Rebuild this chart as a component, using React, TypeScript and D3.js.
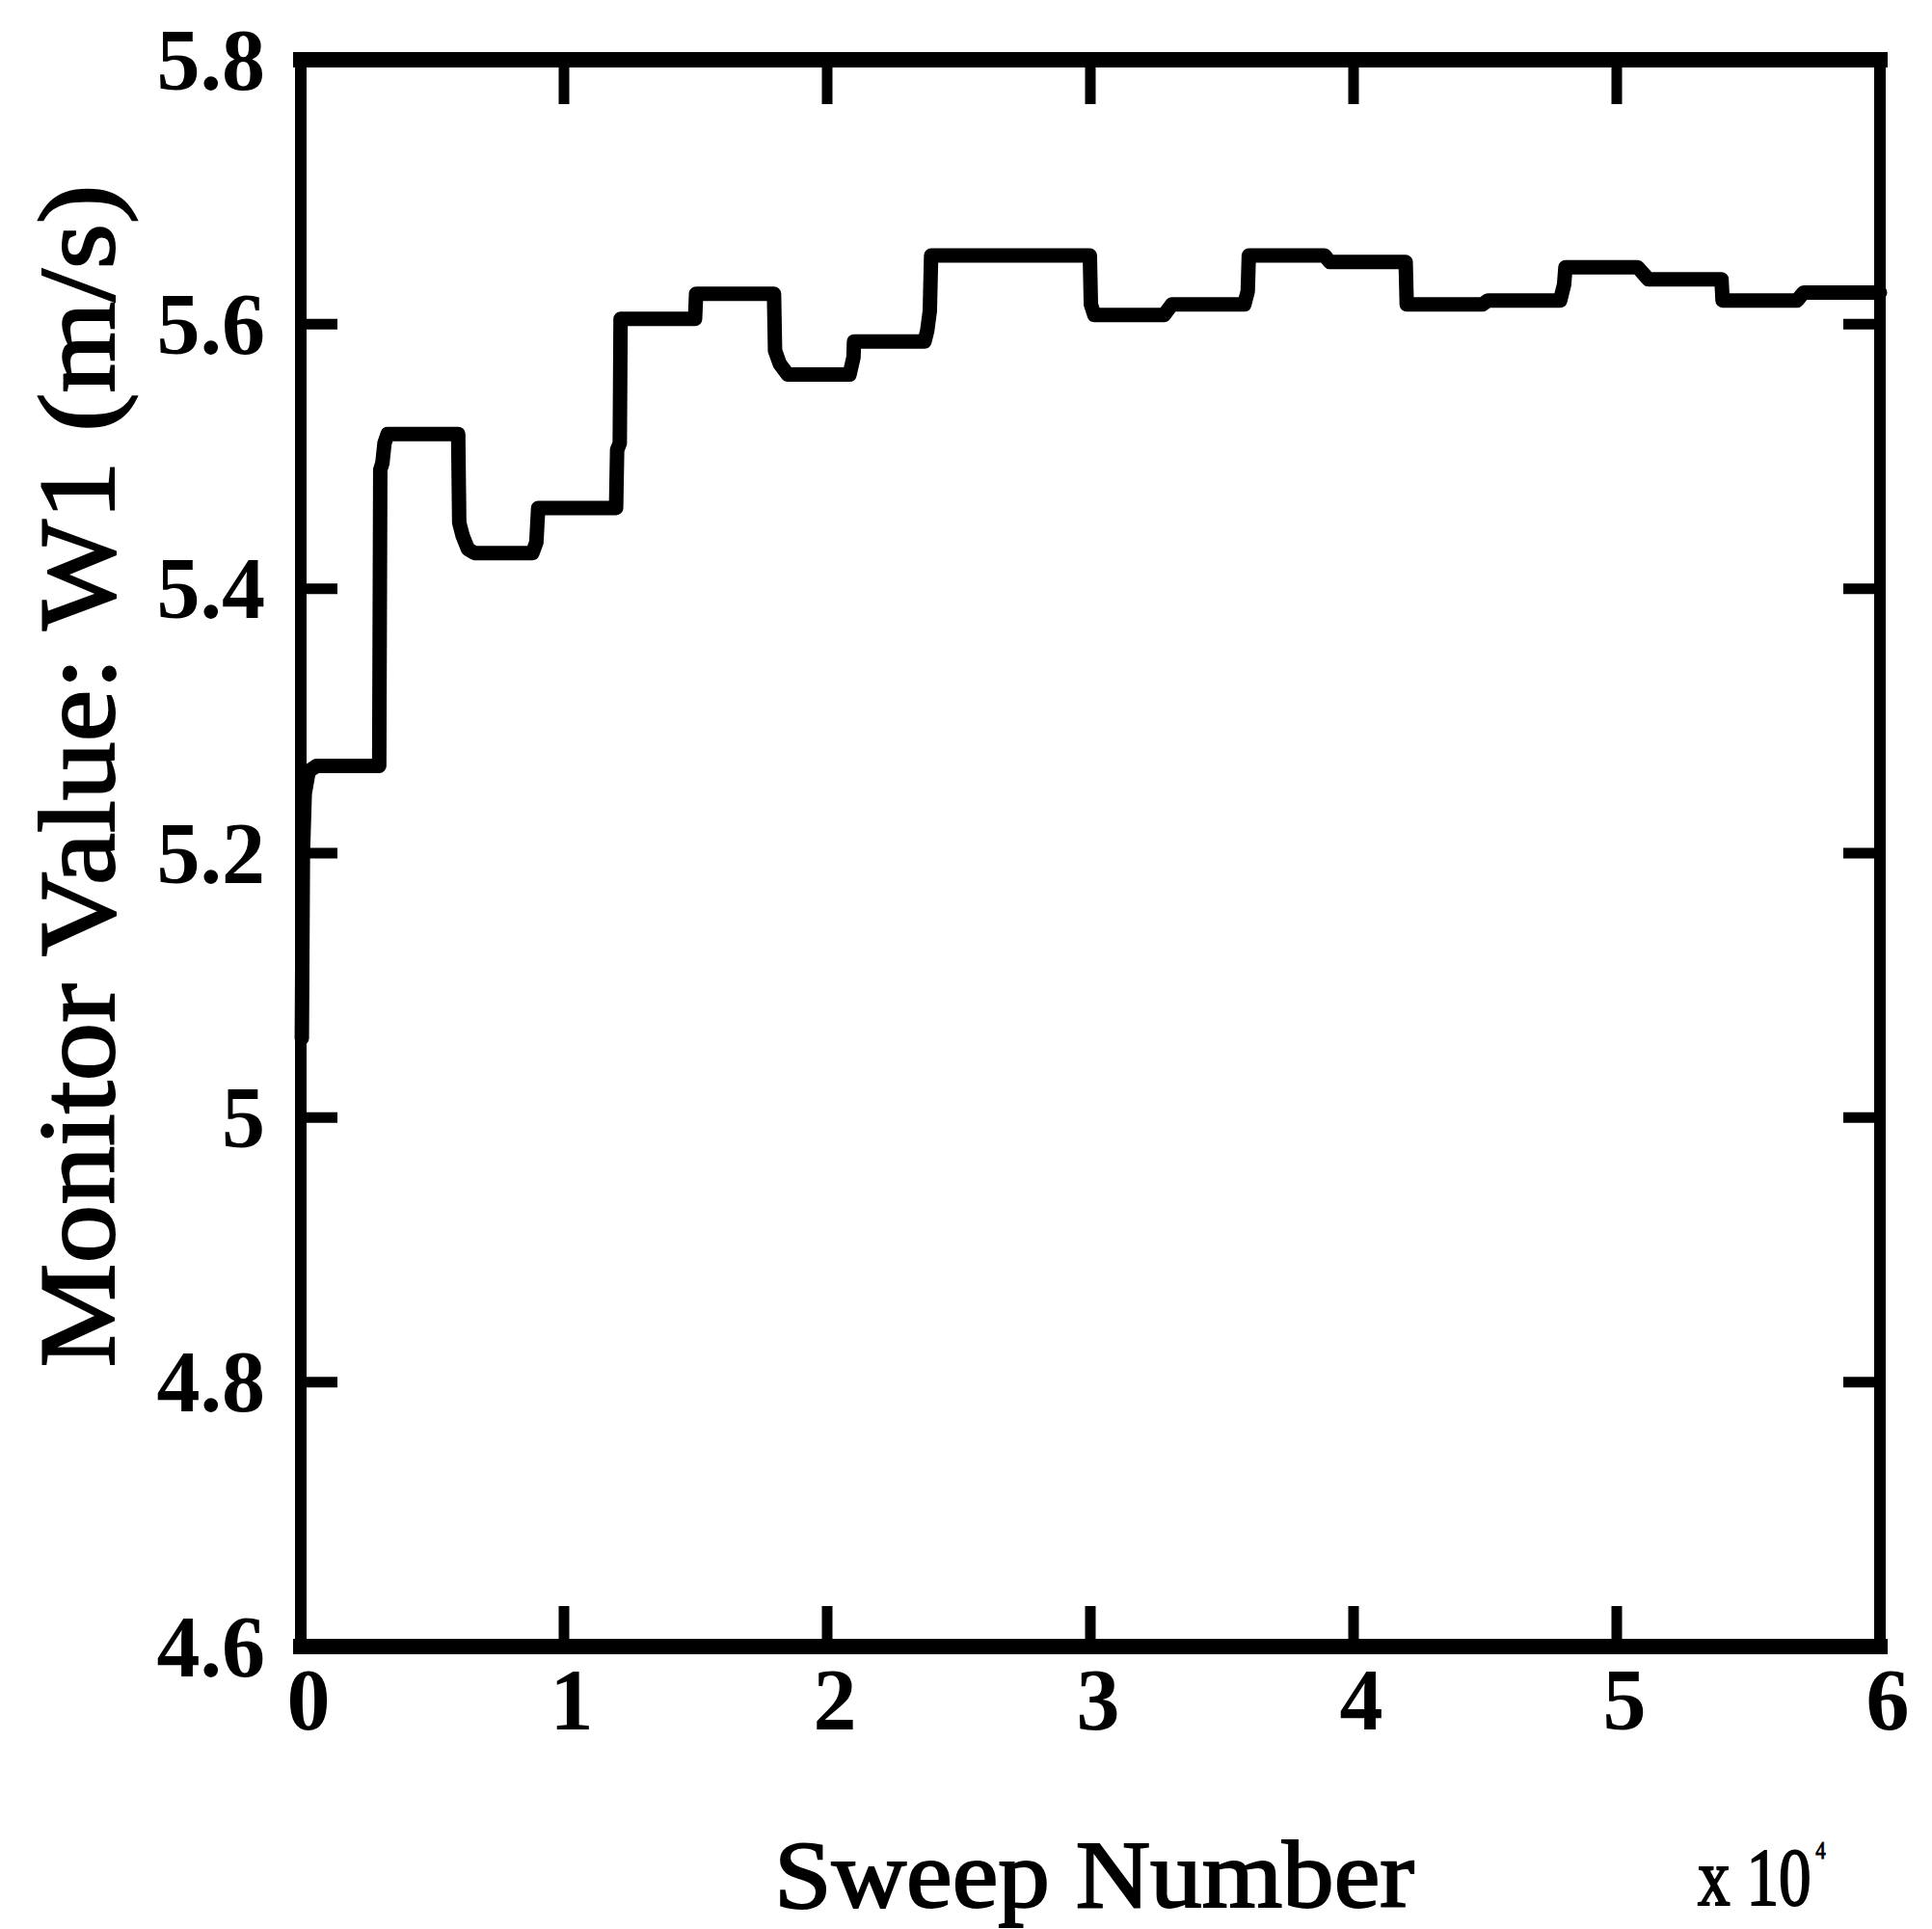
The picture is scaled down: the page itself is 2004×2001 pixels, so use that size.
import React from 'react';
import * as d3 from 'd3';

const sweepPoints = [
  0.004, 0.008, 0.015, 0.03, 0.06, 0.298, 0.302, 0.31, 0.318, 0.33,
  0.598, 0.602, 0.615, 0.635, 0.66, 0.88, 0.895, 0.902, 1.198, 1.202,
  1.212, 1.215, 1.498, 1.502, 1.798, 1.802, 1.82, 1.85, 2.085, 2.1,
  2.102, 2.37, 2.38, 2.39, 2.395, 2.998, 3.002, 3.015, 3.28, 3.31,
  3.585, 3.598, 3.602, 3.89, 3.91, 4.198, 4.202, 4.49, 4.51, 4.785,
  4.8, 4.805, 5.08, 5.12, 5.398, 5.402, 5.685, 5.71, 6.0,
];
const monitorValues = [
  5.06, 5.2, 5.245, 5.262, 5.266, 5.266, 5.49, 5.495, 5.51, 5.517,
  5.517, 5.45, 5.44, 5.43, 5.427, 5.427, 5.435, 5.461, 5.461, 5.505,
  5.51, 5.604, 5.604, 5.623, 5.623, 5.58, 5.57, 5.562, 5.562, 5.575,
  5.587, 5.587, 5.595, 5.61, 5.652, 5.652, 5.615, 5.607, 5.607, 5.615,
  5.615, 5.625, 5.652, 5.652, 5.647, 5.647, 5.615, 5.615, 5.618, 5.618,
  5.63, 5.643, 5.643, 5.634, 5.634, 5.618, 5.618, 5.624, 5.624,
];

const xTicks = [0, 1, 2, 3, 4, 5, 6];
const xTickLabels = ['0', '1', '2', '3', '4', '5', '6'];
const yTicks = [4.6, 4.8, 5.0, 5.2, 5.4, 5.6, 5.8];
const yTickLabels = ['4.6', '4.8', '5', '5.2', '5.4', '5.6', '5.8'];

const xTitle = 'Sweep Number';
const yTitle = 'Monitor Value: W1 (m/s)';
const xMultiplierBase = 'x 10';
const xMultiplierExp = '4';

const FONT = "'Liberation Serif', 'Times New Roman', serif";

export default function App() {
  const x = d3.scaleLinear().domain([0, 6]).range([312, 1950]);
  const y = d3.scaleLinear().domain([4.6, 5.8]).range([1708, 62]);

  const data = sweepPoints.map((s, i) => [s, monitorValues[i]] as [number, number]);
  const line = d3
    .line<[number, number]>()
    .x((d) => x(d[0]))
    .y((d) => y(d[1]));

  const x0 = x(0);
  const x1 = x(6);
  const yTop = y(5.8);
  const yBot = y(4.6);
  const innerX = xTicks.filter((t) => t > 0 && t < 6);
  const innerY = yTicks.filter((t) => t > 4.6 && t < 5.8);

  return (
    <svg
      width={2004}
      height={2001}
      style={{ position: 'absolute', left: 0, top: 0, background: '#fff' }}
    >
      <rect x={0} y={0} width={2004} height={2001} fill="#fff" />
      {/* data line */}
      <path
        d={line(data) || ''}
        fill="none"
        stroke="#000"
        strokeWidth={15}
        strokeLinejoin="round"
        strokeLinecap="round"
      />
      {/* frame */}
      <g stroke="#000" strokeLinecap="square">
        <line x1={x0} x2={x1} y1={yTop} y2={yTop} strokeWidth={16} />
        <line x1={x0} x2={x1} y1={yBot} y2={yBot} strokeWidth={16} />
        <line x1={x0} x2={x0} y1={yTop} y2={yBot} strokeWidth={12} />
        <line x1={x1} x2={x1} y1={yTop} y2={yBot} strokeWidth={12} />
      </g>
      {/* ticks */}
      <g stroke="#000" strokeWidth={11}>
        {innerX.map((t) => (
          <g key={'xt' + t}>
            <line x1={x(t)} x2={x(t)} y1={yTop} y2={yTop + 46} />
            <line x1={x(t)} x2={x(t)} y1={yBot} y2={yBot - 42} />
          </g>
        ))}
        {innerY.map((t) => (
          <g key={'yt' + t}>
            <line x1={x0} x2={x0 + 38} y1={y(t)} y2={y(t)} />
            <line x1={x1} x2={x1 - 38} y1={y(t)} y2={y(t)} />
          </g>
        ))}
      </g>
      {/* tick labels */}
      <g fontFamily={FONT} fontWeight="bold" fontSize={90} fill="#000">
        {yTicks.map((t, i) => (
          <text
            key={'yl' + t}
            x={275}
            y={y(t)}
            textAnchor="end"
            dominantBaseline="central"
          >
            {yTickLabels[i]}
          </text>
        ))}
        {xTicks.map((t, i) => (
          <text key={'xl' + t} x={x(t) + 8} y={1794} textAnchor="middle">
            {xTickLabels[i]}
          </text>
        ))}
      </g>
      {/* axis titles */}
      <g fill="#000" stroke="#000" strokeWidth={2} fontFamily={FONT}>
        <text
          x={803}
          y={1978}
          fontSize={100}
          textLength={664}
          lengthAdjust="spacingAndGlyphs"
        >
          {xTitle}
        </text>
        <text
          transform="translate(1761, 1976) scale(0.8, 1)"
          x={0}
          y={0}
          fontSize={84}
        >
          {xMultiplierBase}
          <tspan fontSize={26} dx={6} dy={-48} strokeWidth={1}>
            {xMultiplierExp}
          </tspan>
        </text>
        <text
          transform="translate(118, 805) rotate(-90)"
          textAnchor="middle"
          fontSize={112}
          textLength={1227}
          lengthAdjust="spacingAndGlyphs"
        >
          {yTitle}
        </text>
      </g>
    </svg>
  );
}
